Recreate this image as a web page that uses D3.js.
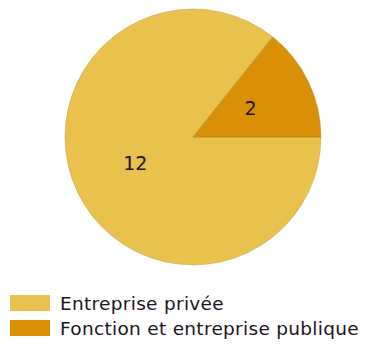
<!DOCTYPE html>
<html>
<head>
<meta charset="utf-8">
<script src="https://cdn.jsdelivr.net/npm/d3@7"></script>
<style>
  body { margin: 0; background: #fff; }
  svg { display: block; }
</style>
</head>
<body>
<div id="chart"></div>
<script>
// chart values
var categories = ["Entreprise privée", "Fonction et entreprise publique"];
var values = [12, 2];
var colors = ["#E8C24C", "#D98F06"];

var width = 365, height = 345;
var cx = 193, cy = 137, radius = 128;

var svg = d3.select("#chart")
    .append("svg")
    .attr("width", width)
    .attr("height", height);

var color = d3.scaleOrdinal()
    .domain(categories)
    .range(colors);

var pie = d3.pie()
    .sort(null)
    .startAngle(Math.PI / 2)
    .endAngle(Math.PI / 2 + 2 * Math.PI)
    .value(function(d) { return d.value; });

var slices = categories.map(function(c, i) {
    return { name: c, value: values[i] };
});

var arc = d3.arc().innerRadius(0).outerRadius(radius);
var labelArc = d3.arc().innerRadius(radius * 0.5).outerRadius(radius * 0.5);

var g = svg.append("g")
    .attr("transform", "translate(" + cx + "," + cy + ")");

g.selectAll("path")
    .data(pie(slices))
    .enter()
    .append("path")
    .attr("d", arc)
    .style("fill", function(d) { return color(d.data.name); })
    .style("stroke", "rgba(160,115,30,0.45)")
    .style("stroke-width", 0.7);

g.selectAll("text.val")
    .data(pie(slices))
    .enter()
    .append("text")
    .attr("class", "val")
    .attr("transform", function(d) {
        return "translate(" + labelArc.centroid(d) + ")";
    })
    .attr("dy", "0.3em")
    .style("text-anchor", "middle")
    .style("font-family", "DejaVu Sans, sans-serif")
    .style("font-size", "19px")
    .style("fill", "#1c1420")
    .text(function(d) { return d.data.value; });

// legend
var legend = svg.append("g")
    .attr("transform", "translate(10,295)");

var item = legend.selectAll("g")
    .data(categories)
    .enter()
    .append("g")
    .attr("transform", function(d, i) { return "translate(0," + (i * 25) + ")"; });

item.append("rect")
    .attr("width", 40)
    .attr("height", 16)
    .style("fill", function(d) { return color(d); });

item.append("text")
    .attr("x", 50)
    .attr("y", 14.5)
    .style("font-family", "DejaVu Sans, sans-serif")
    .style("font-size", "18.5px")
    .style("letter-spacing", "0.3px")
    .style("fill", "#1c1420")
    .text(function(d) { return d; });
</script>
</body>
</html>
